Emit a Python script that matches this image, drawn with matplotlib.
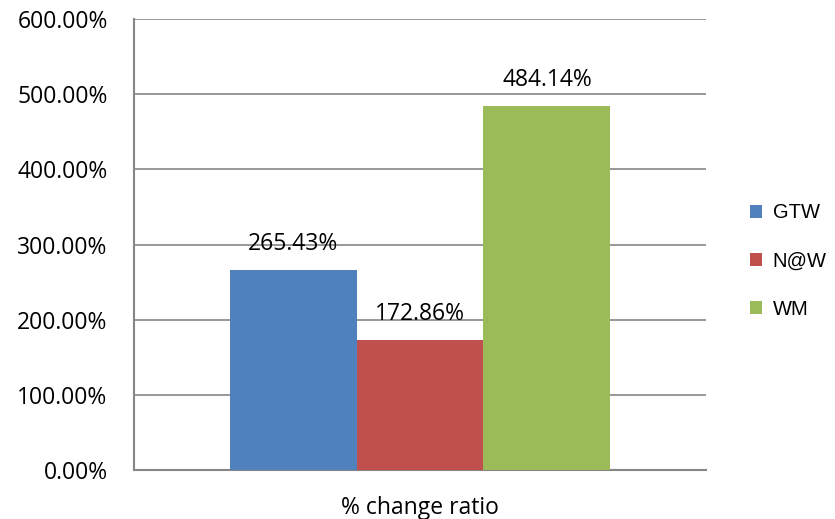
import matplotlib
matplotlib.use("Agg")
import matplotlib.pyplot as plt
from matplotlib.patches import Patch

series = ["GTW", "N@W", "WM"]
values = [265.43, 172.86, 484.14]
colors = ["#4F81BD", "#C0504D", "#9BBB59"]
category = "% change ratio"
yticks = [0, 100, 200, 300, 400, 500, 600]

plt.rcParams["font.family"] = ["Open Sans", "DejaVu Sans"]
fs = 16.5

fig = plt.figure(figsize=(8.35, 5.19), dpi=100)
ax = fig.add_axes([0.1605, 0.0944, 0.685, 0.869])

width = 0.222
offsets = [-width, 0, width]
for name, v, c, off in zip(series, values, colors, offsets):
    ax.bar(off, v, width=width, color=c, label=name, zorder=3)
    ax.annotate(f"{v:.2f}%", xy=(off, v), xytext=(0, 19), textcoords="offset points",
                ha="center", va="center", fontsize=fs, color="black")

ax.set_xlim(-0.5, 0.5)
ax.set_ylim(0, 600)
ax.set_yticks(yticks)
ax.set_yticklabels([f"{t:.2f}%" for t in yticks], fontsize=fs)
ax.set_xticks([0])
ax.set_xticklabels([category], fontsize=fs)
ax.tick_params(axis="both", length=0)
ax.tick_params(axis="x", pad=18.5)
ax.tick_params(axis="y", pad=19)
ax.grid(axis="y", color="#868686", linewidth=1.2, zorder=0)
for side in ["top", "right"]:
    ax.spines[side].set_visible(False)
for side in ["left", "bottom"]:
    ax.spines[side].set_color("#868686")
    ax.spines[side].set_linewidth(1.5)

handles = [Patch(facecolor=c, label=n) for n, c in zip(series, colors)]
leg = fig.legend(handles=handles, loc="center left", bbox_to_anchor=(0.876, 0.497),
                 frameon=False, handlelength=0.6, handleheight=0.6,
                 handletextpad=0.55, labelspacing=1.45,
                 prop={"family": ["Liberation Sans", "DejaVu Sans"], "size": 14.5})

fig.savefig("out.png", dpi=100)
